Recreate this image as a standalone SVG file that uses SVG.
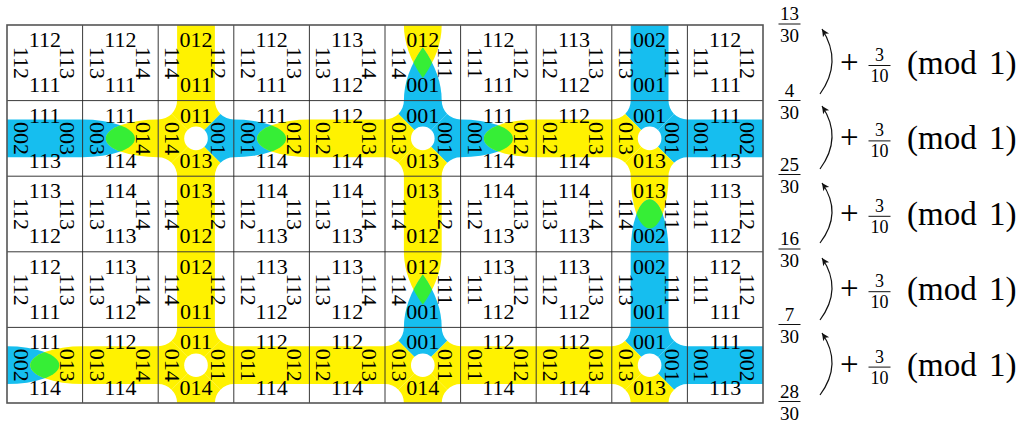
<svg xmlns="http://www.w3.org/2000/svg" width="1021" height="428" viewBox="0 0 1021 428" font-family="'Liberation Serif','Times New Roman',serif">
<style>
.y{fill:#FFF200}.b{fill:#16BEEF}.g{fill:#36EE36}.w{fill:#fff}
text{font-family:"Liberation Serif","Times New Roman",serif;fill:#000}
.t{font-size:22px;text-anchor:middle}
.f{font-size:19px;text-anchor:middle}
.s{font-size:18px;text-anchor:middle}
.big{font-size:33px}
.gl{stroke:#222;stroke-width:0.9;fill:none}
.bd{stroke:#555;stroke-width:1.6;fill:none}
.bar{stroke:#111;stroke-width:1}
.arr{stroke:#111;stroke-width:1.2;fill:none;marker-end:url(#ah)}
</style>
<defs>
<marker id="ah" viewBox="-8 -4 9 8" refX="0" refY="0" markerWidth="9" markerHeight="8" orient="auto" markerUnits="userSpaceOnUse"><path d="M0 0L-7.5-3.6L-5.6 0L-7.5 3.6Z" fill="#111"/></marker>
<path id="vs" d="M18.9 0h37.8v75.6h-37.8z"/>
<path id="hs" d="M0 18.9h75.6v37.8h-75.6z"/>
<path id="eLp" d="M0 18.9A52.3 18.9 0 0 1 0 56.7Z"/>
<path id="eRp" d="M75.6 18.9A52.3 18.9 0 0 0 75.6 56.7Z"/>
<path id="eTp" d="M18.9 0A18.9 52.3 0 0 0 56.7 0Z"/>
<path id="eBp" d="M18.9 75.6A18.9 52.3 0 0 1 56.7 75.6Z"/>
<path id="pTp" d="M18.9 0Q18.9 26.5 37.8 53Q56.7 26.5 56.7 0Z"/>
<path id="pBp" d="M18.9 75.6Q18.9 49.1 37.8 22.6Q56.7 49.1 56.7 75.6Z"/>
<path id="tT" d="M0 0H75.6L37.8 37.8Z"/>
<path id="tR" d="M75.6 0V75.6L37.8 37.8Z"/>
<path id="tB" d="M0 75.6H75.6L37.8 37.8Z"/>
<path id="tL" d="M0 0V75.6L37.8 37.8Z"/>
<clipPath id="cx"><path d="M18.9 0L56.7 0A18.9 18.9 0 0 0 75.6 18.9L75.6 56.7A18.9 18.9 0 0 0 56.7 75.6L18.9 75.6A18.9 18.9 0 0 0 0 56.7L0 18.9A18.9 18.9 0 0 0 18.9 0Z"/></clipPath>
<clipPath id="eL"><path d="M0 18.9A52.3 18.9 0 0 1 0 56.7Z"/></clipPath>
<clipPath id="eT"><path d="M18.9 0A18.9 52.3 0 0 0 56.7 0Z"/></clipPath>
<clipPath id="pT"><path d="M18.9 0Q18.9 26.5 37.8 53Q56.7 26.5 56.7 0Z"/></clipPath>
</defs>

<!-- Row 0 -->
<g id="c-0-0" transform="translate(7,25)"><text class="t" x="37.8" y="22">112</text><text class="t" x="37.8" y="67.3">111</text><text class="t" transform="translate(7,37.8) rotate(90)">112</text><text class="t" transform="translate(53,37.8) rotate(90)">113</text></g>
<g id="c-0-1" transform="translate(82.6,25)"><text class="t" x="37.8" y="22">112</text><text class="t" x="37.8" y="67.3">111</text><text class="t" transform="translate(7,37.8) rotate(90)">113</text><text class="t" transform="translate(53,37.8) rotate(90)">114</text></g>
<g id="c-0-2" transform="translate(158.2,25)"><use href="#vs" class="y"/><text class="t" x="37.8" y="22">012</text><text class="t" x="37.8" y="67.3">011</text><text class="t" transform="translate(7,37.8) rotate(90)">114</text><text class="t" transform="translate(53,37.8) rotate(90)">112</text></g>
<g id="c-0-3" transform="translate(233.8,25)"><text class="t" x="37.8" y="22">112</text><text class="t" x="37.8" y="67.3">111</text><text class="t" transform="translate(7,37.8) rotate(90)">112</text><text class="t" transform="translate(53,37.8) rotate(90)">113</text></g>
<g id="c-0-4" transform="translate(309.4,25)"><text class="t" x="37.8" y="22">113</text><text class="t" x="37.8" y="67.3">112</text><text class="t" transform="translate(7,37.8) rotate(90)">113</text><text class="t" transform="translate(53,37.8) rotate(90)">114</text></g>
<g id="c-0-5" transform="translate(385,25)"><use href="#pTp" class="y"/><use href="#pBp" class="b"/><use href="#pBp" class="g" clip-path="url(#pT)"/><text class="t" x="37.8" y="22">012</text><text class="t" x="37.8" y="67.3">001</text><text class="t" transform="translate(7,37.8) rotate(90)">114</text><text class="t" transform="translate(53,37.8) rotate(90)">111</text></g>
<g id="c-0-6" transform="translate(460.6,25)"><text class="t" x="37.8" y="22">112</text><text class="t" x="37.8" y="67.3">111</text><text class="t" transform="translate(7,37.8) rotate(90)">111</text><text class="t" transform="translate(53,37.8) rotate(90)">112</text></g>
<g id="c-0-7" transform="translate(536.2,25)"><text class="t" x="37.8" y="22">113</text><text class="t" x="37.8" y="67.3">112</text><text class="t" transform="translate(7,37.8) rotate(90)">112</text><text class="t" transform="translate(53,37.8) rotate(90)">113</text></g>
<g id="c-0-8" transform="translate(611.8,25)"><use href="#vs" class="b"/><text class="t" x="37.8" y="22">002</text><text class="t" x="37.8" y="67.3">001</text><text class="t" transform="translate(7,37.8) rotate(90)">113</text><text class="t" transform="translate(53,37.8) rotate(90)">111</text></g>
<g id="c-0-9" transform="translate(687.4,25)"><text class="t" x="37.8" y="22">112</text><text class="t" x="37.8" y="67.3">111</text><text class="t" transform="translate(7,37.8) rotate(90)">111</text><text class="t" transform="translate(53,37.8) rotate(90)">112</text></g>

<!-- Row 1 -->
<g id="c-1-0" transform="translate(7,100.6)"><use href="#hs" class="b"/><text class="t" x="37.8" y="22">111</text><text class="t" x="37.8" y="67.3">113</text><text class="t" transform="translate(7,37.8) rotate(90)">002</text><text class="t" transform="translate(53,37.8) rotate(90)">003</text></g>
<g id="c-1-1" transform="translate(82.6,100.6)"><use href="#eLp" class="b"/><use href="#eRp" class="y"/><use href="#eRp" class="g" clip-path="url(#eL)"/><text class="t" x="37.8" y="22">111</text><text class="t" x="37.8" y="67.3">114</text><text class="t" transform="translate(7,37.8) rotate(90)">003</text><text class="t" transform="translate(53,37.8) rotate(90)">014</text></g>
<g id="c-1-2" transform="translate(158.2,100.6)"><g clip-path="url(#cx)"><use href="#tT" class="y"/><use href="#tL" class="y"/><use href="#tR" class="b"/><use href="#tB" class="y"/></g><circle class="w" cx="37.8" cy="37.8" r="11.8"/><text class="t" x="37.8" y="22">011</text><text class="t" x="37.8" y="67.3">013</text><text class="t" transform="translate(7,37.8) rotate(90)">014</text><text class="t" transform="translate(53,37.8) rotate(90)">001</text></g>
<g id="c-1-3" transform="translate(233.8,100.6)"><use href="#eLp" class="b"/><use href="#eRp" class="y"/><use href="#eRp" class="g" clip-path="url(#eL)"/><text class="t" x="37.8" y="22">111</text><text class="t" x="37.8" y="67.3">114</text><text class="t" transform="translate(7,37.8) rotate(90)">001</text><text class="t" transform="translate(53,37.8) rotate(90)">012</text></g>
<g id="c-1-4" transform="translate(309.4,100.6)"><use href="#hs" class="y"/><text class="t" x="37.8" y="22">112</text><text class="t" x="37.8" y="67.3">114</text><text class="t" transform="translate(7,37.8) rotate(90)">012</text><text class="t" transform="translate(53,37.8) rotate(90)">013</text></g>
<g id="c-1-5" transform="translate(385,100.6)"><g clip-path="url(#cx)"><use href="#tT" class="b"/><use href="#tL" class="y"/><use href="#tR" class="b"/><use href="#tB" class="y"/></g><circle class="w" cx="37.8" cy="37.8" r="11.8"/><text class="t" x="37.8" y="22">001</text><text class="t" x="37.8" y="67.3">013</text><text class="t" transform="translate(7,37.8) rotate(90)">013</text><text class="t" transform="translate(53,37.8) rotate(90)">001</text></g>
<g id="c-1-6" transform="translate(460.6,100.6)"><use href="#eLp" class="b"/><use href="#eRp" class="y"/><use href="#eRp" class="g" clip-path="url(#eL)"/><text class="t" x="37.8" y="22">111</text><text class="t" x="37.8" y="67.3">114</text><text class="t" transform="translate(7,37.8) rotate(90)">001</text><text class="t" transform="translate(53,37.8) rotate(90)">012</text></g>
<g id="c-1-7" transform="translate(536.2,100.6)"><use href="#hs" class="y"/><text class="t" x="37.8" y="22">112</text><text class="t" x="37.8" y="67.3">114</text><text class="t" transform="translate(7,37.8) rotate(90)">012</text><text class="t" transform="translate(53,37.8) rotate(90)">013</text></g>
<g id="c-1-8" transform="translate(611.8,100.6)"><g clip-path="url(#cx)"><use href="#tT" class="b"/><use href="#tL" class="y"/><use href="#tR" class="b"/><use href="#tB" class="y"/></g><circle class="w" cx="37.8" cy="37.8" r="11.8"/><text class="t" x="37.8" y="22">001</text><text class="t" x="37.8" y="67.3">013</text><text class="t" transform="translate(7,37.8) rotate(90)">013</text><text class="t" transform="translate(53,37.8) rotate(90)">001</text></g>
<g id="c-1-9" transform="translate(687.4,100.6)"><use href="#hs" class="b"/><text class="t" x="37.8" y="22">111</text><text class="t" x="37.8" y="67.3">113</text><text class="t" transform="translate(7,37.8) rotate(90)">001</text><text class="t" transform="translate(53,37.8) rotate(90)">002</text></g>

<!-- Row 2 -->
<g id="c-2-0" transform="translate(7,176.2)"><text class="t" x="37.8" y="22">113</text><text class="t" x="37.8" y="67.3">112</text><text class="t" transform="translate(7,37.8) rotate(90)">112</text><text class="t" transform="translate(53,37.8) rotate(90)">113</text></g>
<g id="c-2-1" transform="translate(82.6,176.2)"><text class="t" x="37.8" y="22">114</text><text class="t" x="37.8" y="67.3">113</text><text class="t" transform="translate(7,37.8) rotate(90)">113</text><text class="t" transform="translate(53,37.8) rotate(90)">114</text></g>
<g id="c-2-2" transform="translate(158.2,176.2)"><use href="#vs" class="y"/><text class="t" x="37.8" y="22">013</text><text class="t" x="37.8" y="67.3">012</text><text class="t" transform="translate(7,37.8) rotate(90)">114</text><text class="t" transform="translate(53,37.8) rotate(90)">112</text></g>
<g id="c-2-3" transform="translate(233.8,176.2)"><text class="t" x="37.8" y="22">114</text><text class="t" x="37.8" y="67.3">113</text><text class="t" transform="translate(7,37.8) rotate(90)">112</text><text class="t" transform="translate(53,37.8) rotate(90)">113</text></g>
<g id="c-2-4" transform="translate(309.4,176.2)"><text class="t" x="37.8" y="22">114</text><text class="t" x="37.8" y="67.3">113</text><text class="t" transform="translate(7,37.8) rotate(90)">113</text><text class="t" transform="translate(53,37.8) rotate(90)">114</text></g>
<g id="c-2-5" transform="translate(385,176.2)"><use href="#vs" class="y"/><text class="t" x="37.8" y="22">013</text><text class="t" x="37.8" y="67.3">012</text><text class="t" transform="translate(7,37.8) rotate(90)">114</text><text class="t" transform="translate(53,37.8) rotate(90)">112</text></g>
<g id="c-2-6" transform="translate(460.6,176.2)"><text class="t" x="37.8" y="22">114</text><text class="t" x="37.8" y="67.3">113</text><text class="t" transform="translate(7,37.8) rotate(90)">112</text><text class="t" transform="translate(53,37.8) rotate(90)">113</text></g>
<g id="c-2-7" transform="translate(536.2,176.2)"><text class="t" x="37.8" y="22">114</text><text class="t" x="37.8" y="67.3">113</text><text class="t" transform="translate(7,37.8) rotate(90)">113</text><text class="t" transform="translate(53,37.8) rotate(90)">114</text></g>
<g id="c-2-8" transform="translate(611.8,176.2)"><use href="#eTp" class="y"/><use href="#eBp" class="b"/><use href="#eBp" class="g" clip-path="url(#eT)"/><text class="t" x="37.8" y="22">013</text><text class="t" x="37.8" y="67.3">002</text><text class="t" transform="translate(7,37.8) rotate(90)">114</text><text class="t" transform="translate(53,37.8) rotate(90)">111</text></g>
<g id="c-2-9" transform="translate(687.4,176.2)"><text class="t" x="37.8" y="22">113</text><text class="t" x="37.8" y="67.3">112</text><text class="t" transform="translate(7,37.8) rotate(90)">111</text><text class="t" transform="translate(53,37.8) rotate(90)">112</text></g>

<!-- Row 3 -->
<g id="c-3-0" transform="translate(7,251.8)"><text class="t" x="37.8" y="22">112</text><text class="t" x="37.8" y="67.3">111</text><text class="t" transform="translate(7,37.8) rotate(90)">112</text><text class="t" transform="translate(53,37.8) rotate(90)">113</text></g>
<g id="c-3-1" transform="translate(82.6,251.8)"><text class="t" x="37.8" y="22">113</text><text class="t" x="37.8" y="67.3">112</text><text class="t" transform="translate(7,37.8) rotate(90)">113</text><text class="t" transform="translate(53,37.8) rotate(90)">114</text></g>
<g id="c-3-2" transform="translate(158.2,251.8)"><use href="#vs" class="y"/><text class="t" x="37.8" y="22">012</text><text class="t" x="37.8" y="67.3">011</text><text class="t" transform="translate(7,37.8) rotate(90)">114</text><text class="t" transform="translate(53,37.8) rotate(90)">112</text></g>
<g id="c-3-3" transform="translate(233.8,251.8)"><text class="t" x="37.8" y="22">113</text><text class="t" x="37.8" y="67.3">112</text><text class="t" transform="translate(7,37.8) rotate(90)">112</text><text class="t" transform="translate(53,37.8) rotate(90)">113</text></g>
<g id="c-3-4" transform="translate(309.4,251.8)"><text class="t" x="37.8" y="22">113</text><text class="t" x="37.8" y="67.3">112</text><text class="t" transform="translate(7,37.8) rotate(90)">113</text><text class="t" transform="translate(53,37.8) rotate(90)">114</text></g>
<g id="c-3-5" transform="translate(385,251.8)"><use href="#pTp" class="y"/><use href="#pBp" class="b"/><use href="#pBp" class="g" clip-path="url(#pT)"/><text class="t" x="37.8" y="22">012</text><text class="t" x="37.8" y="67.3">001</text><text class="t" transform="translate(7,37.8) rotate(90)">114</text><text class="t" transform="translate(53,37.8) rotate(90)">111</text></g>
<g id="c-3-6" transform="translate(460.6,251.8)"><text class="t" x="37.8" y="22">113</text><text class="t" x="37.8" y="67.3">112</text><text class="t" transform="translate(7,37.8) rotate(90)">111</text><text class="t" transform="translate(53,37.8) rotate(90)">112</text></g>
<g id="c-3-7" transform="translate(536.2,251.8)"><text class="t" x="37.8" y="22">113</text><text class="t" x="37.8" y="67.3">112</text><text class="t" transform="translate(7,37.8) rotate(90)">112</text><text class="t" transform="translate(53,37.8) rotate(90)">113</text></g>
<g id="c-3-8" transform="translate(611.8,251.8)"><use href="#vs" class="b"/><text class="t" x="37.8" y="22">002</text><text class="t" x="37.8" y="67.3">001</text><text class="t" transform="translate(7,37.8) rotate(90)">113</text><text class="t" transform="translate(53,37.8) rotate(90)">111</text></g>
<g id="c-3-9" transform="translate(687.4,251.8)"><text class="t" x="37.8" y="22">112</text><text class="t" x="37.8" y="67.3">111</text><text class="t" transform="translate(7,37.8) rotate(90)">111</text><text class="t" transform="translate(53,37.8) rotate(90)">112</text></g>

<!-- Row 4 -->
<g id="c-4-0" transform="translate(7,327.4)"><use href="#eLp" class="b"/><use href="#eRp" class="y"/><use href="#eRp" class="g" clip-path="url(#eL)"/><text class="t" x="37.8" y="22">111</text><text class="t" x="37.8" y="67.3">114</text><text class="t" transform="translate(7,37.8) rotate(90)">002</text><text class="t" transform="translate(53,37.8) rotate(90)">013</text></g>
<g id="c-4-1" transform="translate(82.6,327.4)"><use href="#hs" class="y"/><text class="t" x="37.8" y="22">112</text><text class="t" x="37.8" y="67.3">114</text><text class="t" transform="translate(7,37.8) rotate(90)">013</text><text class="t" transform="translate(53,37.8) rotate(90)">014</text></g>
<g id="c-4-2" transform="translate(158.2,327.4)"><g clip-path="url(#cx)"><use href="#tT" class="y"/><use href="#tL" class="y"/><use href="#tR" class="y"/><use href="#tB" class="y"/></g><circle class="w" cx="37.8" cy="37.8" r="11.8"/><text class="t" x="37.8" y="22">011</text><text class="t" x="37.8" y="67.3">014</text><text class="t" transform="translate(7,37.8) rotate(90)">014</text><text class="t" transform="translate(53,37.8) rotate(90)">011</text></g>
<g id="c-4-3" transform="translate(233.8,327.4)"><use href="#hs" class="y"/><text class="t" x="37.8" y="22">112</text><text class="t" x="37.8" y="67.3">114</text><text class="t" transform="translate(7,37.8) rotate(90)">011</text><text class="t" transform="translate(53,37.8) rotate(90)">012</text></g>
<g id="c-4-4" transform="translate(309.4,327.4)"><use href="#hs" class="y"/><text class="t" x="37.8" y="22">112</text><text class="t" x="37.8" y="67.3">114</text><text class="t" transform="translate(7,37.8) rotate(90)">012</text><text class="t" transform="translate(53,37.8) rotate(90)">013</text></g>
<g id="c-4-5" transform="translate(385,327.4)"><g clip-path="url(#cx)"><use href="#tT" class="b"/><use href="#tL" class="y"/><use href="#tR" class="y"/><use href="#tB" class="y"/></g><circle class="w" cx="37.8" cy="37.8" r="11.8"/><text class="t" x="37.8" y="22">001</text><text class="t" x="37.8" y="67.3">014</text><text class="t" transform="translate(7,37.8) rotate(90)">013</text><text class="t" transform="translate(53,37.8) rotate(90)">011</text></g>
<g id="c-4-6" transform="translate(460.6,327.4)"><use href="#hs" class="y"/><text class="t" x="37.8" y="22">112</text><text class="t" x="37.8" y="67.3">114</text><text class="t" transform="translate(7,37.8) rotate(90)">011</text><text class="t" transform="translate(53,37.8) rotate(90)">012</text></g>
<g id="c-4-7" transform="translate(536.2,327.4)"><use href="#hs" class="y"/><text class="t" x="37.8" y="22">112</text><text class="t" x="37.8" y="67.3">114</text><text class="t" transform="translate(7,37.8) rotate(90)">012</text><text class="t" transform="translate(53,37.8) rotate(90)">013</text></g>
<g id="c-4-8" transform="translate(611.8,327.4)"><g clip-path="url(#cx)"><use href="#tT" class="b"/><use href="#tL" class="y"/><use href="#tR" class="b"/><use href="#tB" class="y"/></g><circle class="w" cx="37.8" cy="37.8" r="11.8"/><text class="t" x="37.8" y="22">001</text><text class="t" x="37.8" y="67.3">013</text><text class="t" transform="translate(7,37.8) rotate(90)">013</text><text class="t" transform="translate(53,37.8) rotate(90)">001</text></g>
<g id="c-4-9" transform="translate(687.4,327.4)"><use href="#hs" class="b"/><text class="t" x="37.8" y="22">111</text><text class="t" x="37.8" y="67.3">113</text><text class="t" transform="translate(7,37.8) rotate(90)">001</text><text class="t" transform="translate(53,37.8) rotate(90)">002</text></g>

<!-- grid -->
<g id="grid">
<path class="gl" d="M82.6 25V403M158.2 25V403M233.8 25V403M309.4 25V403M385 25V403M460.6 25V403M536.2 25V403M611.8 25V403M687.4 25V403M7 100.6H763M7 176.2H763M7 251.8H763M7 327.4H763"/>
<rect class="bd" x="7" y="25" width="756" height="378"/>
</g>

<!-- fractions -->
<g id="fractions">
<text class="f" x="789.5" y="20">13</text><line class="bar" x1="778.5" y1="24" x2="800.5" y2="24"/><text class="f" x="789.5" y="42">30</text>
<text class="f" x="789.5" y="96.5">4</text><line class="bar" x1="778.5" y1="100.5" x2="800.5" y2="100.5"/><text class="f" x="789.5" y="118.5">30</text>
<text class="f" x="789.5" y="170.5">25</text><line class="bar" x1="778.5" y1="174.5" x2="800.5" y2="174.5"/><text class="f" x="789.5" y="192.5">30</text>
<text class="f" x="789.5" y="245">16</text><line class="bar" x1="778.5" y1="249" x2="800.5" y2="249"/><text class="f" x="789.5" y="267">30</text>
<text class="f" x="789.5" y="320.5">7</text><line class="bar" x1="778.5" y1="324.5" x2="800.5" y2="324.5"/><text class="f" x="789.5" y="342.5">30</text>
<text class="f" x="789.5" y="397.5">28</text><line class="bar" x1="778.5" y1="401.5" x2="800.5" y2="401.5"/><text class="f" x="789.5" y="419.5">30</text>
</g>

<!-- connectors -->
<g id="connectors">
<path class="arr" d="M820 94Q843 62 822 29"/>
<path class="arr" d="M820 169Q843 137.5 822 106"/>
<path class="arr" d="M820 243Q843 213 822 183"/>
<path class="arr" d="M820 320Q843 289 822 258"/>
<path class="arr" d="M820 395Q843 364 822 333"/>
</g>

<!-- step labels -->
<g id="labels">
<g transform="translate(0,0)"><text class="big" x="840" y="73">+</text><text class="s" x="879.5" y="61">3</text><line class="bar" x1="868.5" y1="65.5" x2="890.5" y2="65.5"/><text class="s" x="879.5" y="82">10</text><text class="big" x="907" y="74">(mod</text><text class="big" x="989" y="74">1)</text></g>
<g transform="translate(0,75.4)"><text class="big" x="840" y="73">+</text><text class="s" x="879.5" y="61">3</text><line class="bar" x1="868.5" y1="65.5" x2="890.5" y2="65.5"/><text class="s" x="879.5" y="82">10</text><text class="big" x="907" y="74">(mod</text><text class="big" x="989" y="74">1)</text></g>
<g transform="translate(0,150.8)"><text class="big" x="840" y="73">+</text><text class="s" x="879.5" y="61">3</text><line class="bar" x1="868.5" y1="65.5" x2="890.5" y2="65.5"/><text class="s" x="879.5" y="82">10</text><text class="big" x="907" y="74">(mod</text><text class="big" x="989" y="74">1)</text></g>
<g transform="translate(0,226.2)"><text class="big" x="840" y="73">+</text><text class="s" x="879.5" y="61">3</text><line class="bar" x1="868.5" y1="65.5" x2="890.5" y2="65.5"/><text class="s" x="879.5" y="82">10</text><text class="big" x="907" y="74">(mod</text><text class="big" x="989" y="74">1)</text></g>
<g transform="translate(0,301.6)"><text class="big" x="840" y="73">+</text><text class="s" x="879.5" y="61">3</text><line class="bar" x1="868.5" y1="65.5" x2="890.5" y2="65.5"/><text class="s" x="879.5" y="82">10</text><text class="big" x="907" y="74">(mod</text><text class="big" x="989" y="74">1)</text></g>
</g>
</svg>
